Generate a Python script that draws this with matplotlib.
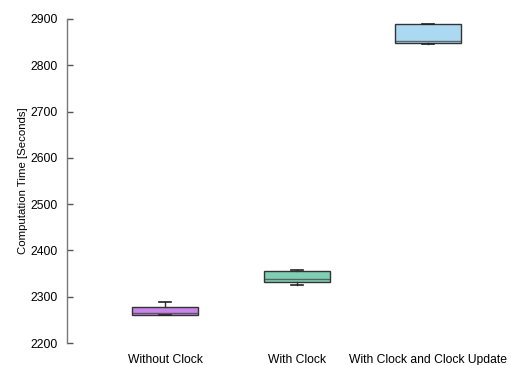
import matplotlib
matplotlib.use("Agg")
import matplotlib.pyplot as plt

plt.rcParams['font.family'] = ['Liberation Sans', 'DejaVu Sans']

categories = ["Without Clock", "With Clock", "With Clock and Clock Update"]
q1 = [2261, 2331, 2849]
median = [2264, 2339, 2852]
q3 = [2278, 2356, 2890]
whisker_low = [2261, 2326, 2847]
whisker_high = [2288, 2357, 2890]
box_colors = ["#c986e8", "#80cfb4", "#acd9f2"]
y_ticks = [2200, 2300, 2400, 2500, 2600, 2700, 2800, 2900]

stats = [
    dict(label=c, q1=a, med=m, q3=b, whislo=lo, whishi=hi, fliers=[])
    for c, a, m, b, lo, hi in zip(categories, q1, median, q3, whisker_low, whisker_high)
]

fig = plt.figure(figsize=(5.11, 3.65), dpi=100)
ax = fig.add_axes([0.131, 0.060, 0.836, 0.888])

bp = ax.bxp(stats, positions=[1, 2, 3], widths=0.5, patch_artist=True,
            showfliers=False, capwidths=0.09,
            boxprops=dict(edgecolor="#333333", linewidth=1.0),
            medianprops=dict(color="#3a3a3a", linewidth=1.0, alpha=0.7),
            whiskerprops=dict(color="#333333", linewidth=1.0),
            capprops=dict(color="#222222", linewidth=1.2))
for patch, col in zip(bp["boxes"], box_colors):
    patch.set_facecolor(col)

ax.set_xlim(0.255, 3.5)
ax.set_ylim(2200, 2900)
ax.set_yticks(y_ticks)
ax.set_xticks([1, 2, 3])
ax.set_xticklabels(categories)
ax.tick_params(axis="y", direction="in", length=4, width=1, color="#555555",
               labelsize=8.7, pad=6.5)
ax.tick_params(axis="x", length=0, labelsize=8.7, pad=8)
for side in ("top", "right", "bottom"):
    ax.spines[side].set_visible(False)
ax.spines["left"].set_color("#777777")
ax.spines["left"].set_linewidth(1.0)
ax.set_ylabel("Computation Time [Seconds]", fontsize=8.2, labelpad=2)

fig.savefig("out.png", dpi=100)
